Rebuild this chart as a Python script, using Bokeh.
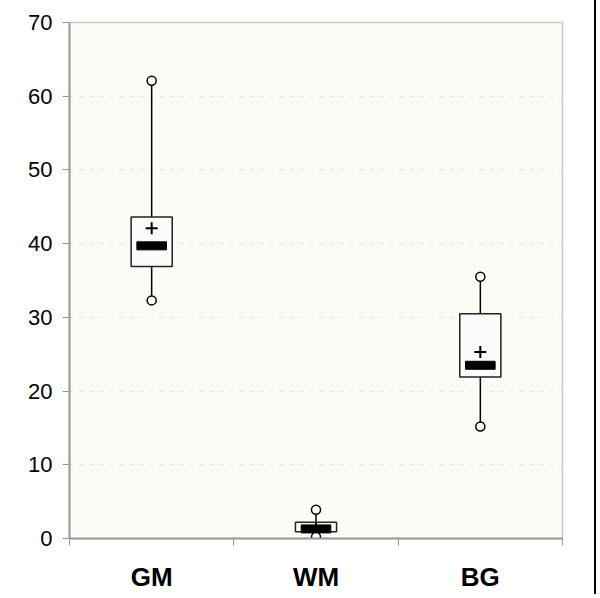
from bokeh.plotting import figure
from bokeh.models import ColumnDataSource, Range1d, FixedTicker
from bokeh.embed import file_html
from bokeh.resources import INLINE

categories = ["GM", "WM", "BG"]
max_vals = [62.1, 3.9, 35.5]
q3_vals = [43.6, 2.2, 30.5]
median_vals = [39.7, 1.3, 23.5]
mean_vals = [42.1, 1.4, 25.3]
q1_vals = [36.9, 0.9, 21.9]
min_vals = [32.3, 0.2, 15.2]
y_ticks = [0, 10, 20, 30, 40, 50, 60, 70]

xs = [i + 0.5 for i in range(len(categories))]
src = ColumnDataSource(dict(x=xs, cat=categories, mx=max_vals, q3=q3_vals,
                            med=median_vals, mean=mean_vals, q1=q1_vals, mn=min_vals))

p = figure(width=596, height=594, output_backend="svg", toolbar_location=None,
           x_range=Range1d(0, len(categories)), y_range=Range1d(0, 70),
           min_border_left=69, min_border_right=34, min_border_top=22, min_border_bottom=54)

p.background_fill_color = "#fcfcf7"
p.border_fill_color = "white"
p.outline_line_color = "#c8c8c8"
p.outline_line_width = 1.5
p.styles = {"border-right": "2px solid black"}

# axes
p.yaxis.ticker = FixedTicker(ticks=y_ticks)
p.yaxis.major_label_text_font = "Liberation Sans"
p.yaxis.major_label_text_font_size = "22px"
p.yaxis.major_label_text_color = "black"
p.yaxis.major_tick_out = 7
p.yaxis.major_tick_in = 0
p.yaxis.minor_tick_line_color = None
p.yaxis.major_label_standoff = 10
p.yaxis.axis_line_color = "#999999"
p.yaxis.axis_line_width = 2
p.yaxis.major_tick_line_color = "#999999"

p.xaxis.ticker = FixedTicker(ticks=xs, minor_ticks=list(range(len(categories) + 1)))
p.xaxis.major_label_overrides = {x: c for x, c in zip(xs, categories)}
p.xaxis.major_label_text_font = "Liberation Sans"
p.xaxis.major_label_text_font_style = "bold"
p.xaxis.major_label_text_font_size = "26px"
p.xaxis.major_label_text_color = "black"
p.xaxis.major_tick_out = 0
p.xaxis.major_tick_in = 0
p.xaxis.minor_tick_out = 7
p.xaxis.minor_tick_in = 0
p.xaxis.minor_tick_line_color = "#999999"
p.xaxis.major_label_standoff = 16
p.xaxis.axis_line_color = "#999999"
p.xaxis.axis_line_width = 2

p.xgrid.grid_line_color = None
p.ygrid.ticker = FixedTicker(ticks=y_ticks)
p.ygrid.grid_line_color = "#e6e6dc"
p.ygrid.grid_line_dash = "4 6"

# whiskers
p.segment(x0="x", y0="q3", x1="x", y1="mx", source=src, line_color="black", line_width=1.5)
p.segment(x0="x", y0="q1", x1="x", y1="mn", source=src, line_color="black", line_width=1.5)
# boxes
p.vbar(x="x", top="q3", bottom="q1", width=0.25, source=src,
       fill_color="#fbfbfb", line_color="#222222", line_width=1.5)
# median bars
p.rect(x="x", y="med", width=0.18, height=8, height_units="screen", source=src,
       fill_color="black", line_color="black")
# mean
p.scatter(x="x", y="mean", source=src, marker="cross", size=12, line_color="black", line_width=2)
# extremes
p.scatter(x="x", y="mx", source=src, marker="circle", size=9, fill_color="white",
          line_color="black", line_width=1.5)
p.scatter(x="x", y="mn", source=src, marker="circle", size=9, fill_color="white",
          line_color="black", line_width=1.5)

open("out.html", "w").write(file_html(p, INLINE))
